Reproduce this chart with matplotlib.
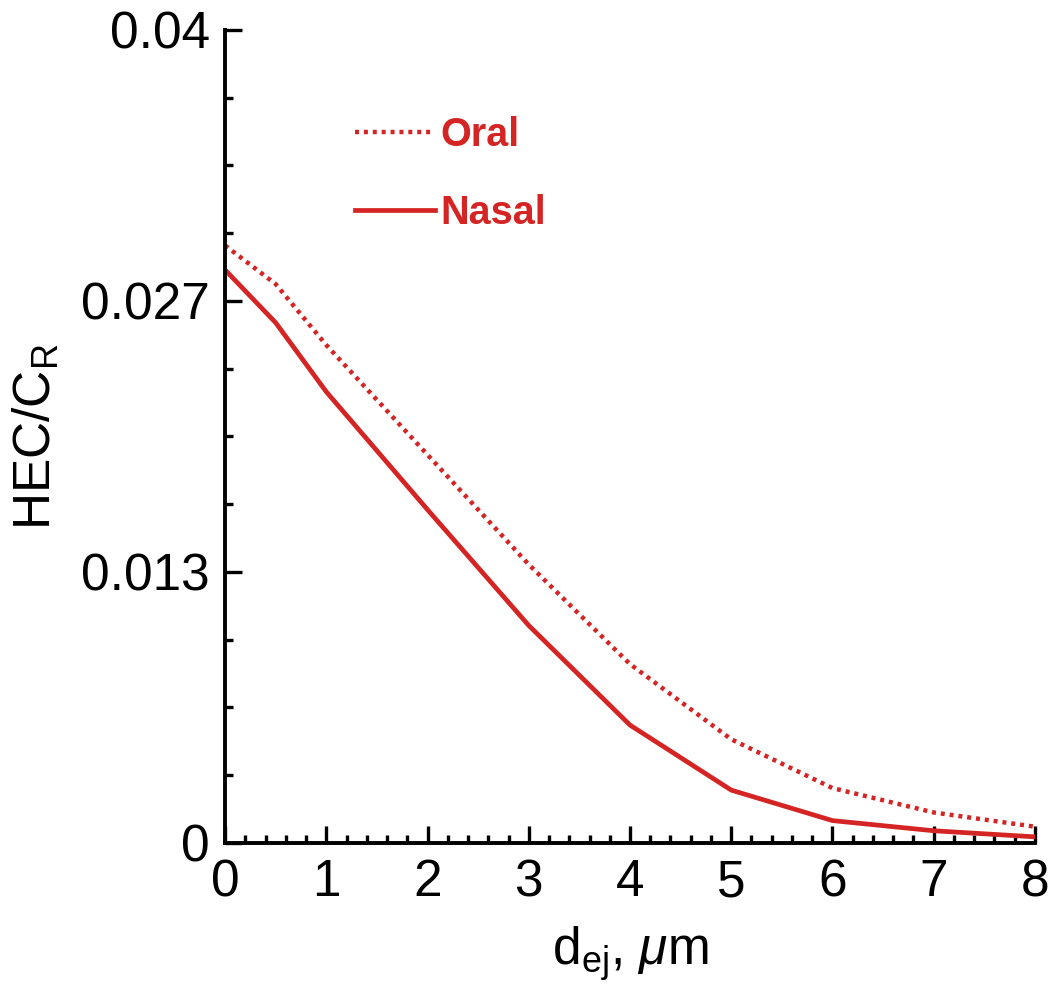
import numpy as np
import matplotlib
matplotlib.use('Agg')
import matplotlib.pyplot as plt
from matplotlib.ticker import FixedLocator, MultipleLocator

plt.rcParams['font.family'] = ['Liberation Sans', 'DejaVu Sans']
plt.rcParams['mathtext.fontset'] = 'custom'
plt.rcParams['mathtext.rm'] = 'Liberation Sans'
plt.rcParams['mathtext.it'] = 'Liberation Sans:italic'

# particle diameter (um)
d_ej = [0, 0.5, 1, 2, 3, 4, 5, 6, 7, 8]
# HEC/C_R values
oral = [0.0294, 0.0275, 0.0245, 0.0191, 0.0137, 0.0088, 0.0051, 0.0027, 0.0015, 0.0008]
nasal = [0.0282, 0.0256, 0.0222, 0.0164, 0.0107, 0.0058, 0.0026, 0.0011, 0.0006, 0.0003]

ytick_vals = [0, 0.04 / 3, 0.08 / 3, 0.04]
ytick_labels = ['0', '0.013', '0.027', '0.04']
xtick_vals = [0, 1, 2, 3, 4, 5, 6, 7, 8]

red = '#d42424'

fig = plt.figure(figsize=(10.5, 9.93), dpi=100)
ax = fig.add_axes([0.2143, 0.1511, 0.7714, 0.8187])

ax.plot(d_ej, oral, color=red, lw=3.2, linestyle=(0, (0.9, 1.1)), label='Oral')
ax.plot(d_ej, nasal, color=red, lw=3.4, label='Nasal')

ax.set_xlim(0, 8)
ax.set_ylim(0, 0.04)
ax.xaxis.set_major_locator(FixedLocator(xtick_vals))
ax.xaxis.set_minor_locator(MultipleLocator(0.2))
ax.yaxis.set_major_locator(FixedLocator(ytick_vals))
ax.yaxis.set_minor_locator(MultipleLocator(0.04 / 12))
ax.set_yticklabels(ytick_labels)

for s in ['top', 'right']:
    ax.spines[s].set_visible(False)
for s in ['left', 'bottom']:
    ax.spines[s].set_linewidth(2.8)

ax.tick_params(which='major', direction='in', length=12, width=2.4, labelsize=37, pad=11)
ax.tick_params(which='minor', direction='in', length=6, width=2.4)

ax.set_xlabel(r'd$_{\mathregular{ej}}$, $\mu$m', fontsize=37, labelpad=12)
ax.set_ylabel(r'HEC/C$_{\mathregular{R}}$', fontsize=37, labelpad=14)

leg = ax.legend(loc='upper left', bbox_to_anchor=(0.117, 0.938), frameon=False,
                handlelength=2.0, handletextpad=0.15, labelspacing=1.0,
                prop={'size': 28.5, 'weight': 'bold'}, labelcolor=red)

fig.savefig('out.png', dpi=100)
